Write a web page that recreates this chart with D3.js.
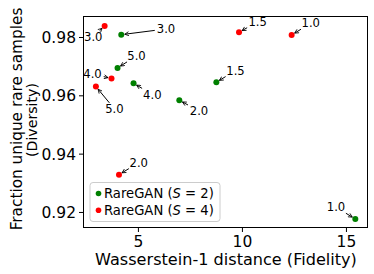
<!DOCTYPE html>
<html><head><meta charset="utf-8">
<script src="https://cdn.jsdelivr.net/npm/d3@7"></script>
<style>body{margin:0;background:#fff}svg{display:block;font-family:"DejaVu Sans",sans-serif}</style>
</head><body>
<script>
// Data
const s2Fidelity = [4.20, 4.02, 4.79, 6.99, 8.77, 15.45];
const s2Diversity = [0.9808, 0.9694, 0.9641, 0.9583, 0.9645, 0.9176];
const s2Labels = ["3.0", "5.0", "4.0", "2.0", "1.5", "1.0"];
const s4Fidelity = [3.40, 3.73, 2.98, 9.86, 12.39, 4.09];
const s4Diversity = [0.9838, 0.9658, 0.9630, 0.9816, 0.9807, 0.9328];
const s4Labels = ["3.0", "4.0", "5.0", "1.5", "1.0", "2.0"];
const xTicks = [5, 10, 15];
const yTicks = [0.92, 0.94, 0.96, 0.98];
const seriesNames = ["RareGAN (S = 2)", "RareGAN (S = 4)"];

// Layout (annotation text offsets in px, like matplotlib offset points)
const s2Offsets = [[44.7,-5.7],[19,-12],[18.8,11],[19.7,10.7],[19.2,-11.6],[-19.3,-11.7]];
const s4Offsets = [[-11.4,10.7],[-19,-4.3],[18.5,22.3],[18.7,-10.6],[19.1,-11.7],[19.8,-12]];

const W = 374, H = 274;
const L = 83, R = 368, T = 16, B = 228;
const x = d3.scaleLinear().domain([2.36, 16.06]).range([L, R]);
const y = d3.scaleLinear().domain([0.9145, 0.9872]).range([B, T]);

const svg = d3.select("body").append("svg").attr("width", W).attr("height", H);

function fitSize(sel, targetW, base) {
  sel.attr("font-size", base);
  const w = sel.node().getComputedTextLength();
  sel.attr("font-size", base * targetW / w);
}

svg.append("defs").append("marker")
  .attr("id","ah").attr("viewBox","0 0 10 10").attr("refX",9).attr("refY",5)
  .attr("markerWidth",5).attr("markerHeight",5).attr("markerUnits","userSpaceOnUse")
  .attr("orient","auto")
  .append("path").attr("d","M1,1 L9,5 L1,9").attr("fill","none").attr("stroke","#000").attr("stroke-width",1.6);

// axes
const xAxis = svg.append("g").attr("transform",`translate(0,${B})`)
  .call(d3.axisBottom(x).tickValues(xTicks).tickSize(4).tickPadding(3).tickFormat(d3.format("d")));
const yAxis = svg.append("g").attr("transform",`translate(${L},0)`)
  .call(d3.axisLeft(y).tickValues(yTicks).tickSize(4).tickPadding(3).tickFormat(d3.format(".2f")));
[xAxis, yAxis].forEach(g => {
  g.select(".domain").remove();
  g.selectAll("text").attr("font-size", 15.5).attr("font-family","DejaVu Sans").attr("fill","#000");
  g.selectAll("line").attr("stroke","#000");
});
xAxis.selectAll("text").attr("dy", null).attr("y", 19);
yAxis.selectAll("text").attr("dy", "0.36em");

svg.append("rect").attr("x",L+0.5).attr("y",T+0.5).attr("width",R-L-1).attr("height",B-T-1)
  .attr("fill","none").attr("stroke","#000").attr("stroke-width",1);

// axis labels
const xl = svg.append("text").attr("x",226).attr("y",265).attr("text-anchor","middle")
  .text("Wasserstein-1 distance (Fidelity)");
fitSize(xl, 262, 15);
const yl1 = svg.append("text").attr("transform","translate(22,119) rotate(-90)")
  .attr("text-anchor","middle").text("Fraction unique rare samples");
fitSize(yl1, 223, 15);
const yl2 = svg.append("text").attr("transform","translate(36.5,120) rotate(-90)")
  .attr("text-anchor","middle").text("(Diversity)");
fitSize(yl2, 74, 15);

function drawSeries(xs, ys, labels, offs, color) {
  const g = svg.append("g");
  xs.forEach((xv, i) => {
    const px = x(xv), py = y(ys[i]);
    const cx = px + offs[i][0], cy = py + offs[i][1];
    const t = g.append("text").attr("x",cx).attr("y",cy).attr("dy","0.36em")
      .attr("text-anchor","middle").attr("font-size",11.6).attr("fill","#000").text(labels[i]);
    const hw = t.node().getComputedTextLength()/2 + 2, hh = 6;
    const dx = px - cx, dy = py - cy;
    const tt = Math.min(Math.abs(dx) > 0 ? hw/Math.abs(dx) : 1e9, Math.abs(dy) > 0 ? hh/Math.abs(dy) : 1e9);
    const sx = cx + dx*tt, sy = cy + dy*tt;
    const len = Math.hypot(px - sx, py - sy);
    const ex = px - (px - sx)/len*3.5, ey = py - (py - sy)/len*3.5;
    g.append("line").attr("x1",sx).attr("y1",sy).attr("x2",ex).attr("y2",ey)
      .attr("stroke","#000").attr("stroke-width",1).attr("marker-end","url(#ah)");
  });
  g.selectAll("circle").data(xs).enter().append("circle")
    .attr("cx", d => x(d)).attr("cy", (d,i) => y(ys[i])).attr("r",3).attr("fill",color);
}
drawSeries(s2Fidelity, s2Diversity, s2Labels, s2Offsets, "#008000");
drawSeries(s4Fidelity, s4Diversity, s4Labels, s4Offsets, "#ff0000");

// legend
const lg = svg.append("g");
lg.append("rect").attr("x",90).attr("y",182.5).attr("width",130).attr("height",39).attr("rx",3)
  .attr("fill","#fff").attr("fill-opacity",0.8).attr("stroke","#cccccc");
const colors = ["#008000", "#ff0000"];
seriesNames.forEach((name, i) => {
  const yy = 193.5 + i*16.8;
  lg.append("circle").attr("cx",98.5).attr("cy",yy).attr("r",2.8).attr("fill",colors[i]);
  const t = lg.append("text").attr("x",104).attr("y",yy).attr("dy","0.36em").attr("fill","#000");
  const parts = name.split("S");
  t.append("tspan").text(parts[0]);
  t.append("tspan").attr("font-style","italic").text("S");
  t.append("tspan").text(parts[1]);
  fitSize(t, 110, 13);
});
</script>
</body></html>
